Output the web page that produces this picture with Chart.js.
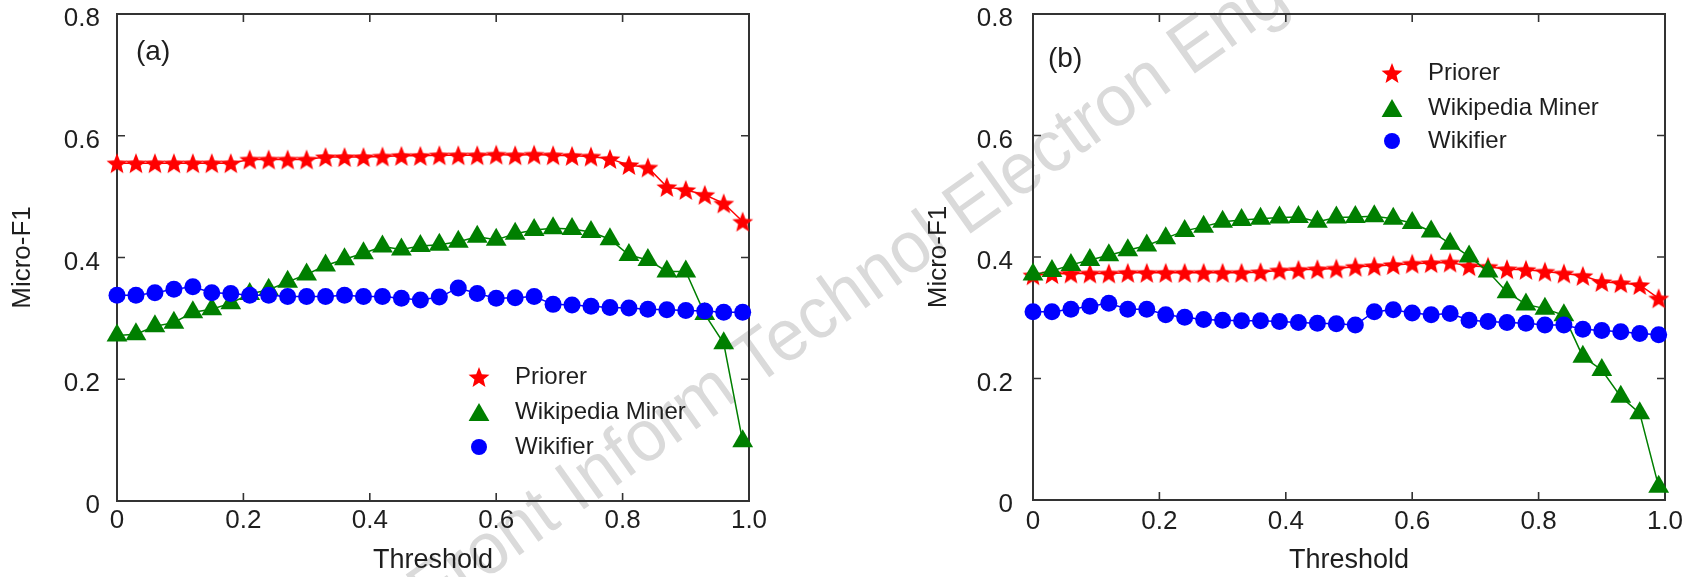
<!DOCTYPE html>
<html><head><meta charset="utf-8">
<script src="https://cdn.jsdelivr.net/npm/chart.js@4.4.1/dist/chart.umd.min.js"></script>
<style>
html,body{margin:0;padding:0;background:#fff;}
body{width:1694px;height:577px;position:relative;overflow:hidden;font-family:"Liberation Sans",Arial,sans-serif;}
#wm{position:absolute;left:846px;top:291px;transform:translate(-50%,-50%) rotate(-35.5deg) scaleX(0.956);font-size:73px;color:#dadada;white-space:nowrap;z-index:0;}
canvas{position:absolute;top:0;z-index:1;}
#ca{left:0;}
#cb{left:916px;}
</style></head><body>
<div id="wm">Front Inform Technol Electron Eng</div>
<canvas id="ca" width="847" height="577"></canvas>
<canvas id="cb" width="778" height="577"></canvas>
<script>
const thresholds = [0,0.03,0.06,0.09,0.12,0.15,0.18,0.21,0.24,0.27,0.30,0.33,0.36,0.39,0.42,0.45,0.48,0.51,0.54,0.57,0.60,0.63,0.66,0.69,0.72,0.75,0.78,0.81,0.84,0.87,0.90,0.93,0.96,0.99];
const xTickLabels = ['0','0.2','0.4','0.6','0.8','1.0'];
const yTickLabels = ['0','0.2','0.4','0.6','0.8'];
const seriesNames = ['Priorer','Wikipedia Miner','Wikifier'];
const xTitle = 'Threshold';
const yTitle = 'Micro-F1';
const panelLabels = ['(a)','(b)'];

const priorerA = [0.555,0.555,0.555,0.555,0.555,0.555,0.555,0.561,0.561,0.561,0.561,0.565,0.565,0.565,0.566,0.567,0.567,0.568,0.568,0.568,0.569,0.568,0.569,0.568,0.567,0.566,0.562,0.552,0.548,0.516,0.511,0.503,0.489,0.459];
const minerA   = [0.272,0.274,0.287,0.293,0.310,0.315,0.325,0.340,0.347,0.360,0.372,0.387,0.397,0.407,0.418,0.413,0.419,0.421,0.426,0.434,0.429,0.439,0.445,0.448,0.447,0.442,0.430,0.404,0.396,0.377,0.377,0.307,0.259,0.098];
const wikifierA= [0.338,0.338,0.342,0.348,0.352,0.342,0.341,0.338,0.338,0.336,0.336,0.336,0.338,0.336,0.336,0.333,0.330,0.335,0.350,0.341,0.333,0.334,0.336,0.323,0.322,0.320,0.318,0.317,0.315,0.314,0.313,0.312,0.310,0.310];

const priorerB = [0.370,0.372,0.373,0.373,0.373,0.374,0.374,0.374,0.374,0.374,0.374,0.374,0.375,0.378,0.379,0.380,0.381,0.384,0.385,0.387,0.389,0.390,0.391,0.385,0.384,0.380,0.379,0.376,0.373,0.369,0.359,0.357,0.354,0.332];
const minerB   = [0.371,0.377,0.387,0.395,0.403,0.411,0.419,0.431,0.443,0.450,0.458,0.461,0.463,0.465,0.466,0.458,0.465,0.466,0.467,0.463,0.456,0.442,0.422,0.401,0.376,0.342,0.322,0.315,0.304,0.236,0.214,0.170,0.143,0.022];
const wikifierB= [0.310,0.310,0.314,0.319,0.324,0.314,0.314,0.305,0.301,0.297,0.296,0.295,0.295,0.294,0.292,0.291,0.290,0.288,0.310,0.313,0.308,0.305,0.307,0.296,0.294,0.292,0.291,0.288,0.288,0.281,0.279,0.277,0.274,0.272];

const RED = '#ff0000', GREEN = '#007f00', BLUE = '#0000ff', TEXT = '#1e1e1e', AXIS = '#333333';
Chart.defaults.font.family = '"Liberation Sans", Arial, sans-serif';

function makeStar(R, r, color){
  const size = Math.ceil(R*2+2);
  const c = document.createElement('canvas'); c.width = size; c.height = size;
  const g = c.getContext('2d');
  const cx = size/2;
  const cy = size/2 + R*(1-Math.cos(Math.PI/5))/2;
  g.beginPath();
  for (let k=0;k<10;k++){
    const rad = k%2===0 ? R : r;
    const a = -Math.PI/2 + k*Math.PI/5;
    g.lineTo(cx+rad*Math.cos(a), cy+rad*Math.sin(a));
  }
  g.closePath(); g.fillStyle = color; g.fill();
  return c;
}
const starImg = makeStar(11, 4.8, RED);

function drawLegendMarker(ctx, kind, x, y){
  ctx.save();
  if (kind===0){
    ctx.drawImage(starImg, x-starImg.width/2, y-starImg.height/2);
  } else if (kind===1){
    const r = 12;
    const cy = y + r/4;
    ctx.fillStyle = GREEN;
    ctx.beginPath();
    ctx.moveTo(x, cy - r);
    ctx.lineTo(x + r*Math.sin(2*Math.PI/3), cy - r*Math.cos(2*Math.PI/3));
    ctx.lineTo(x + r*Math.sin(4*Math.PI/3), cy - r*Math.cos(4*Math.PI/3));
    ctx.closePath(); ctx.fill();
  } else {
    ctx.fillStyle = BLUE;
    ctx.beginPath(); ctx.arc(x, y, 8, 0, Math.PI*2); ctx.fill();
  }
  ctx.restore();
}

const framePlugin = {
  id: 'frame',
  beforeDatasetsDraw(chart){
    const {ctx, chartArea:a, scales:{x, y}} = chart;
    ctx.save();
    ctx.strokeStyle = AXIS;
    ctx.lineWidth = 1.6;
    ctx.beginPath();
    x.ticks.forEach(t => {
      const px = x.getPixelForValue(t.value);
      if (px <= a.left+2 || px >= a.right-2) return;
      ctx.moveTo(px, a.bottom); ctx.lineTo(px, a.bottom-8);
      ctx.moveTo(px, a.top); ctx.lineTo(px, a.top+8);
    });
    y.ticks.forEach(t => {
      const py = y.getPixelForValue(t.value);
      if (py <= a.top+2 || py >= a.bottom-2) return;
      ctx.moveTo(a.left, py); ctx.lineTo(a.left+8, py);
      ctx.moveTo(a.right, py); ctx.lineTo(a.right-8, py);
    });
    ctx.stroke();
    ctx.lineWidth = 2;
    ctx.strokeRect(a.left, a.top, a.right-a.left, a.bottom-a.top);
    ctx.restore();
  },
  afterDraw(chart){
    const o = chart.options.plugins.frame;
    const ctx = chart.ctx;
    ctx.save();
    ctx.fillStyle = TEXT;
    ctx.textBaseline = 'middle';
    ctx.textAlign = 'left';
    ctx.font = '28px "Liberation Sans", Arial, sans-serif';
    ctx.fillText(o.label, o.labelX, o.labelY);
    ctx.font = '24px "Liberation Sans", Arial, sans-serif';
    seriesNames.forEach((name, i) => {
      const yy = o.legendRows[i];
      drawLegendMarker(ctx, i, o.markerX, yy);
      ctx.fillStyle = TEXT;
      ctx.fillText(name, o.textX, yy);
    });
    ctx.restore();
  }
};

function makeChart(canvas, cfg){
  const pts = arr => thresholds.map((t, i) => ({x: t, y: arr[i]}));
  return new Chart(canvas, {
    type: 'scatter',
    data: {
      datasets: [
        {label: seriesNames[0], data: pts(cfg.priorer), showLine: true, borderColor: RED, backgroundColor: RED,
         borderWidth: 1.5, pointStyle: starImg, pointRadius: 11, pointBorderWidth: 0, order: 3, clip: false},
        {label: seriesNames[1], data: pts(cfg.miner), showLine: true, borderColor: GREEN, backgroundColor: GREEN,
         borderWidth: 1.5, pointStyle: 'triangle', pointRadius: 12, pointBorderWidth: 0, order: 2, clip: false},
        {label: seriesNames[2], data: pts(cfg.wikifier), showLine: true, borderColor: BLUE, backgroundColor: BLUE,
         borderWidth: 1.5, pointStyle: 'circle', pointRadius: 8.5, pointBorderWidth: 0, order: 1, clip: false}
      ]
    },
    options: {
      responsive: false, animation: false, events: [],
      layout: {padding: {left: 0, top: 14, right: cfg.padRight, bottom: 0}},
      plugins: {
        legend: {display: false}, tooltip: {enabled: false},
        frame: cfg.frame
      },
      scales: {
        x: {
          type: 'linear', min: 0, max: 1,
          afterFit(s){ s.height = cfg.xH; s.paddingLeft = 0; s.paddingRight = 0; },
          grid: {display: false, drawTicks: false}, border: {display: false},
          ticks: {stepSize: 0.2, padding: cfg.xPad, color: TEXT, font: {size: 26}, maxRotation: 0, autoSkip: false,
                  callback: (v, i) => xTickLabels[i]},
          title: {display: true, text: xTitle, color: TEXT, font: {size: 27}, padding: {top: 0, bottom: 0}}
        },
        y: {
          type: 'linear', min: 0, max: 0.8,
          afterFit(s){ s.width = 117; s.paddingTop = 0; s.paddingBottom = 0; },
          grid: {display: false, drawTicks: false}, border: {display: false},
          ticks: {stepSize: 0.2, padding: cfg.yPad, labelOffset: 5, color: TEXT, font: {size: 26}, autoSkip: false,
                  callback: (v, i) => yTickLabels[i]},
          title: {display: true, text: yTitle, color: TEXT, font: {size: 26}, padding: {top: 7, bottom: 0}}
        }
      }
    },
    plugins: [framePlugin]
  });
}

makeChart(document.getElementById('ca'), {
  priorer: priorerA, miner: minerA, wikifier: wikifierA,
  padRight: 98, xH: 76, xPad: 4, yPad: 17,
  frame: {label: panelLabels[0], labelX: 136, labelY: 52, markerX: 479, textX: 515, legendRows: [377, 412, 447]}
});
makeChart(document.getElementById('cb'), {
  priorer: priorerB, miner: minerB, wikifier: wikifierB,
  padRight: 29, xH: 77, xPad: 6, yPad: 20,
  frame: {label: panelLabels[1], labelX: 132, labelY: 59, markerX: 476, textX: 512, legendRows: [73, 108, 141]}
});
</script>
</body></html>
